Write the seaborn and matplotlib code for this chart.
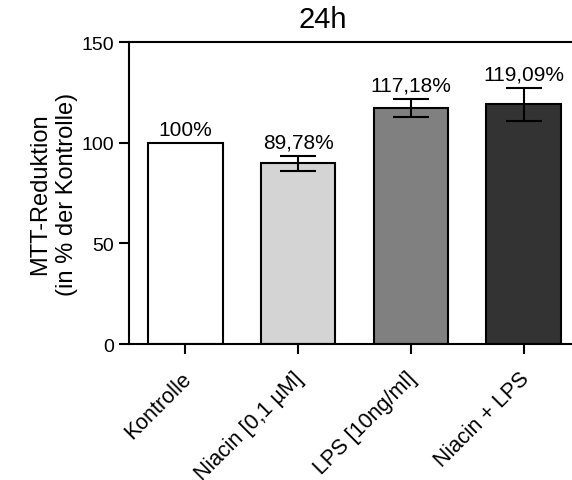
import matplotlib
matplotlib.use("Agg")
import matplotlib.pyplot as plt
import matplotlib.transforms as mtransforms
import seaborn as sns

# data
groups = ["Kontrolle", "Niacin [0,1 µM]", "LPS [10ng/ml]", "Niacin + LPS"]
values = [100.0, 89.78, 117.18, 119.09]
errors = [0.0, 3.7, 4.5, 8.2]
labels = ["100%", "89,78%", "117,18%", "119,09%"]
colors = ["#ffffff", "#d4d4d4", "#808080", "#333333"]

sns.set_style("ticks")
plt.rcParams['font.family'] = ['Liberation Sans', 'DejaVu Sans']
plt.rcParams['text.color'] = 'black'
plt.rcParams['axes.labelcolor'] = 'black'
plt.rcParams['xtick.color'] = 'black'
plt.rcParams['ytick.color'] = 'black'
plt.rcParams['axes.edgecolor'] = 'black'

fig = plt.figure(figsize=(5.72, 4.81), dpi=100)
ax = fig.add_axes([0.2255, 0.2827, 0.7885, 0.6279])

sns.barplot(x=groups, y=values, hue=groups, palette=colors, legend=False,
            edgecolor="black", linewidth=1.5, width=0.66, errorbar=None, ax=ax)

ax.errorbar(range(len(groups))[1:], values[1:], yerr=errors[1:], fmt="none",
            ecolor="black", elinewidth=1.5, capsize=13, capthick=1.5)

for i, (v, e, t) in enumerate(zip(values, errors, labels)):
    ax.annotate(t, (i, v + e), xytext=(0, 3), textcoords="offset points",
                ha="center", va="bottom", fontsize=15)

ax.set_ylim(0, 150)
ax.set_xlim(-0.5, 3.5)
ax.set_yticks([0, 50, 100, 150])
ax.set_ylabel("MTT-Reduktion\n(in % der Kontrolle)", fontsize=17, linespacing=1.3)
ax.yaxis.set_label_coords(-0.112, 0.5)
ax.tick_params(axis="both", labelsize=14, width=1.5, length=7, direction="out")
ax.set_xticks(range(len(groups)))
ax.set_xticklabels(groups, rotation=45, ha="right", rotation_mode="anchor",
                   fontsize=15.5)
ax.tick_params(axis="x", pad=10)
shift = mtransforms.ScaledTranslation(-5 / 100, 0, fig.dpi_scale_trans)
for lab in ax.get_xticklabels():
    lab.set_transform(lab.get_transform() + shift)
for s in ax.spines.values():
    s.set_linewidth(1.5)

fig.text(323 / 572, 1 - 20 / 481, "24h", ha="center", va="center", fontsize=21)

fig.savefig("out.png", dpi=100)
